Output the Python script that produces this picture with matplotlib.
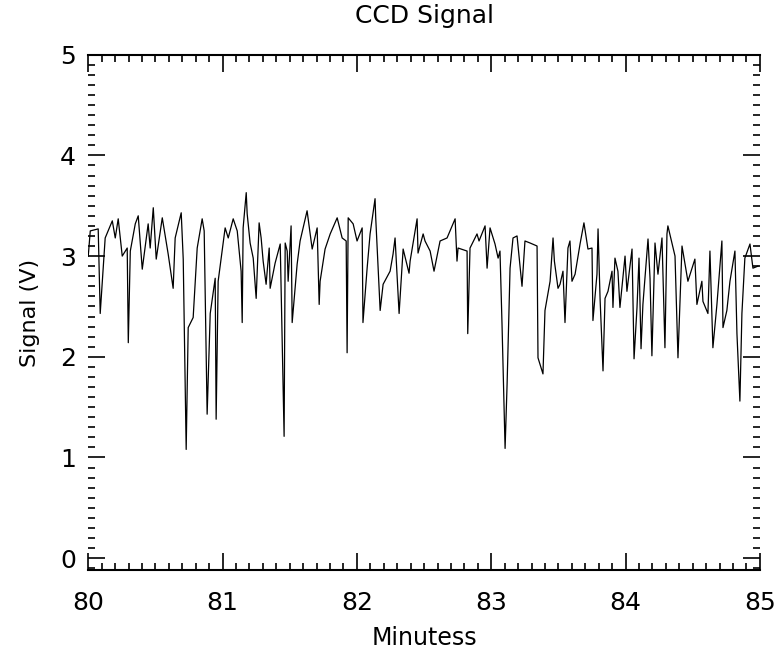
import matplotlib
matplotlib.use('Agg')

import matplotlib.pyplot as plt
from matplotlib.ticker import MultipleLocator

# Time in minutes, signal in volts
minutes = [
    80.000, 80.015, 80.074, 80.089, 80.126, 80.179, 80.201, 80.223, 80.253, 80.290,
    80.298, 80.313, 80.350, 80.372, 80.402, 80.446, 80.461, 80.484, 80.506, 80.551,
    80.595, 80.632, 80.647, 80.692, 80.707, 80.729, 80.744, 80.781, 80.811, 80.848,
    80.863, 80.885, 80.908, 80.945, 80.952, 80.967, 81.019, 81.042, 81.079, 81.109,
    81.138, 81.146, 81.153, 81.176, 81.183, 81.205, 81.228, 81.250, 81.272, 81.287,
    81.302, 81.324, 81.332, 81.347, 81.354, 81.391, 81.429, 81.458, 81.466, 81.481,
    81.488, 81.510, 81.518, 81.555, 81.577, 81.629, 81.667, 81.704, 81.719, 81.726,
    81.763, 81.801, 81.853, 81.890, 81.920, 81.927, 81.935, 81.972, 82.001, 82.039,
    82.045, 82.076, 82.098, 82.135, 82.140, 82.173, 82.195, 82.247, 82.269, 82.284,
    82.314, 82.344, 82.388, 82.396, 82.448, 82.455, 82.493, 82.507, 82.545, 82.574,
    82.619, 82.671, 82.731, 82.745, 82.753, 82.820, 82.825, 82.842, 82.894, 82.909,
    82.954, 82.969, 82.991, 83.028, 83.051, 83.065, 83.080, 83.103, 83.118, 83.140,
    83.162, 83.192, 83.229, 83.251, 83.289, 83.341, 83.348, 83.385, 83.400, 83.438,
    83.460, 83.470, 83.497, 83.512, 83.534, 83.549, 83.571, 83.586, 83.601, 83.624,
    83.661, 83.690, 83.720, 83.750, 83.757, 83.787, 83.795, 83.810, 83.832, 83.847,
    83.869, 83.899, 83.906, 83.921, 83.943, 83.958, 83.996, 84.010, 84.048, 84.063,
    84.085, 84.100, 84.115, 84.129, 84.167, 84.182, 84.196, 84.219, 84.241, 84.271,
    84.293, 84.308, 84.315, 84.368, 84.390, 84.420, 84.464, 84.516, 84.531, 84.568,
    84.576, 84.613, 84.628, 84.650, 84.680, 84.717, 84.725, 84.754, 84.777, 84.814,
    84.829, 84.851, 84.866, 84.888, 84.926, 84.948, 84.985,
]
signal = [
    3.00, 3.25, 3.27, 2.43, 3.18, 3.35, 3.18, 3.37, 3.00, 3.08,
    2.14, 3.05, 3.32, 3.40, 2.87, 3.32, 3.08, 3.48, 2.97, 3.38,
    3.02, 2.68, 3.18, 3.43, 2.97, 1.08, 2.29, 2.39, 3.08, 3.37,
    3.25, 1.43, 2.43, 2.78, 1.38, 2.75, 3.28, 3.18, 3.37, 3.25,
    2.85, 2.34, 3.28, 3.63, 3.42, 3.13, 2.98, 2.58, 3.33, 3.18,
    2.95, 2.72, 2.85, 3.08, 2.68, 2.93, 3.12, 1.21, 3.13, 3.05,
    2.75, 3.30, 2.34, 2.92, 3.15, 3.45, 3.07, 3.28, 2.52, 2.75,
    3.07, 3.22, 3.38, 3.18, 3.15, 2.04, 3.38, 3.32, 3.15, 3.28,
    2.34, 2.88, 3.22, 3.57, 3.38, 2.46, 2.72, 2.85, 3.02, 3.18,
    2.43, 3.07, 2.83, 2.95, 3.37, 3.03, 3.22, 3.15, 3.05, 2.85,
    3.15, 3.18, 3.37, 2.95, 3.08, 3.05, 2.23, 3.08, 3.22, 3.15,
    3.30, 2.88, 3.28, 3.12, 2.98, 3.05, 2.33, 1.09, 1.73, 2.88,
    3.18, 3.20, 2.70, 3.15, 3.13, 3.10, 1.99, 1.83, 2.46, 2.75,
    3.18, 2.95, 2.68, 2.72, 2.85, 2.34, 3.08, 3.15, 2.75, 2.82,
    3.12, 3.33, 3.07, 3.08, 2.36, 2.82, 3.27, 2.58, 1.86, 2.58,
    2.65, 2.85, 2.49, 2.98, 2.85, 2.49, 3.00, 2.65, 3.07, 1.98,
    2.49, 2.98, 2.08, 2.52, 3.17, 2.78, 2.01, 3.13, 2.82, 3.18,
    2.09, 3.22, 3.30, 3.00, 1.99, 3.10, 2.75, 2.97, 2.52, 2.75,
    2.55, 2.43, 3.05, 2.09, 2.52, 3.15, 2.29, 2.46, 2.75, 3.05,
    2.23, 1.56, 2.43, 2.98, 3.12, 2.88, 2.90,
]

x_ticks = [80, 81, 82, 83, 84, 85]
y_ticks = [0, 1, 2, 3, 4, 5]

fig = plt.figure(figsize=(7.81, 6.51), dpi=100)
ax = fig.add_axes([0.113, 0.124, 0.860, 0.792])

ax.plot(minutes, signal, color='black', linewidth=0.9)

ax.set_xlim(80, 85)
ax.set_ylim(-0.12, 5)
ax.set_xticks(x_ticks)
ax.set_yticks(y_ticks)
ax.xaxis.set_minor_locator(MultipleLocator(0.1))
ax.yaxis.set_minor_locator(MultipleLocator(0.1))

# IDL-style frame: solid top/bottom, tick-only sides, ticks inward everywhere
ax.spines['left'].set_visible(False)
ax.spines['right'].set_visible(False)
ax.spines['top'].set_linewidth(1.5)
ax.spines['bottom'].set_linewidth(1.5)
ax.tick_params(which='both', direction='in', top=True, right=True,
               color='black', labelsize=18)
ax.tick_params(which='major', length=12, width=1.2)
ax.tick_params(which='minor', length=5, width=1.2)
ax.tick_params(axis='x', which='major', pad=15)
ax.tick_params(axis='y', which='major', pad=9)

ax.set_title('CCD Signal', fontsize=18, pad=23)
ax.set_xlabel('Minutess', fontsize=17, labelpad=8)
ax.set_ylabel('Signal (V)', fontsize=16, labelpad=14)

plt.savefig('out.png', dpi=100, facecolor='white')
plt.close()
